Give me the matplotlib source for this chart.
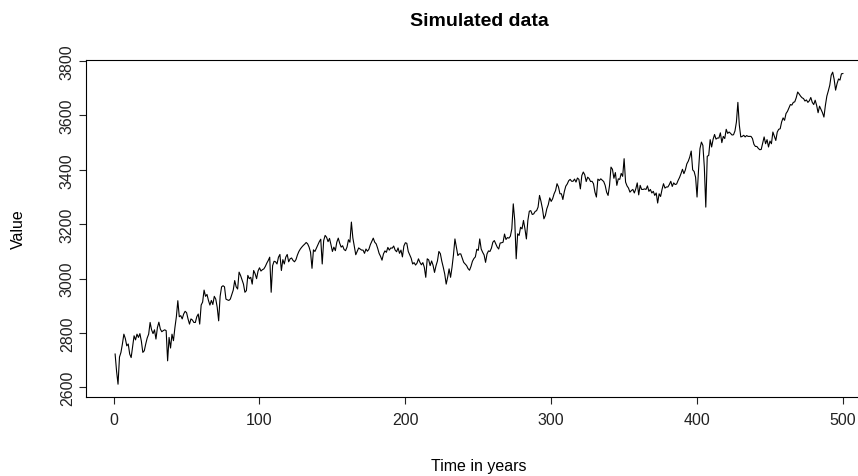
import numpy as np
import matplotlib
matplotlib.use("Agg")
import matplotlib.pyplot as plt

# values, one per year (t = 1..500)
values = [
    2723, 2660, 2612, 2712, 2729, 2760, 2796, 2780, 2753, 2760,
    2723, 2710, 2750, 2790, 2775, 2796, 2784, 2798, 2770, 2729,
    2735, 2760, 2782, 2796, 2839, 2812, 2798, 2812, 2778, 2820,
    2840, 2815, 2805, 2809, 2812, 2809, 2698, 2784, 2745, 2796,
    2772, 2820, 2860, 2919, 2860, 2864, 2852, 2870, 2880, 2875,
    2852, 2833, 2852, 2848, 2839, 2839, 2860, 2870, 2833, 2903,
    2914, 2958, 2935, 2942, 2920, 2903, 2920, 2905, 2935, 2925,
    2895, 2845, 2935, 2970, 2974, 2970, 2925, 2922, 2920, 2925,
    2942, 2958, 2993, 2970, 2962, 3024, 3012, 2996, 2980, 2950,
    2956, 3012, 3000, 3005, 2980, 3030, 3018, 3000, 3028, 3040,
    3028, 3033, 3036, 3045, 3057, 3067, 3079, 2950, 3048, 3064,
    3062, 3054, 3079, 3089, 3030, 3070, 3054, 3079, 3089, 3062,
    3073, 3076, 3067, 3062, 3070, 3087, 3100, 3109, 3116, 3122,
    3127, 3133, 3128, 3116, 3097, 3038, 3106, 3100, 3112, 3125,
    3136, 3145, 3054, 3140, 3159, 3152, 3136, 3148, 3125, 3100,
    3116, 3103, 3134, 3149, 3130, 3116, 3121, 3107, 3103, 3116,
    3143, 3134, 3208, 3150, 3119, 3088, 3101, 3113, 3109, 3105,
    3105, 3093, 3109, 3101, 3108, 3125, 3137, 3149, 3134, 3128,
    3112, 3093, 3082, 3068, 3091, 3102, 3097, 3115, 3105, 3113,
    3112, 3120, 3105, 3099, 3113, 3093, 3105, 3080, 3120, 3132,
    3130, 3100, 3088, 3075, 3054, 3059, 3050, 3057, 3073, 3060,
    3051, 3059, 3042, 3005, 3073, 3069, 3048, 3065, 3049, 3023,
    3047, 3065, 3100, 3092, 3064, 3042, 3017, 2980, 3005, 3036,
    3005, 3042, 3088, 3146, 3116, 3085, 3091, 3091, 3075, 3060,
    3054, 3048, 3037, 3031, 3045, 3064, 3074, 3080, 3108, 3104,
    3146, 3109, 3097, 3087, 3060, 3091, 3102, 3100, 3112, 3134,
    3140, 3128, 3116, 3109, 3131, 3132, 3134, 3164, 3144, 3151,
    3149, 3156, 3183, 3275, 3214, 3073, 3165, 3159, 3189, 3183,
    3214, 3183, 3146, 3214, 3248, 3250, 3236, 3238, 3247, 3250,
    3263, 3306, 3284, 3257, 3220, 3232, 3257, 3272, 3297, 3284,
    3294, 3312, 3324, 3349, 3337, 3312, 3312, 3291, 3320, 3340,
    3348, 3360, 3365, 3358, 3358, 3366, 3355, 3370, 3365, 3330,
    3379, 3392, 3382, 3357, 3373, 3368, 3357, 3358, 3349, 3318,
    3300, 3366, 3361, 3367, 3362, 3357, 3343, 3318, 3306, 3343,
    3410, 3402, 3369, 3390, 3343, 3367, 3365, 3387, 3376, 3441,
    3355, 3341, 3333, 3318, 3324, 3328, 3315, 3330, 3352, 3308,
    3343, 3328, 3328, 3330, 3328, 3341, 3321, 3328, 3315, 3321,
    3306, 3315, 3278, 3312, 3302, 3328, 3349, 3333, 3337, 3337,
    3346, 3358, 3339, 3352, 3346, 3348, 3361, 3372, 3386, 3402,
    3386, 3400, 3422, 3432, 3447, 3469, 3400, 3394, 3373, 3300,
    3398, 3478, 3502, 3490, 3410, 3263, 3450, 3453, 3511, 3484,
    3512, 3530, 3513, 3517, 3517, 3536, 3500, 3523, 3515, 3549,
    3534, 3539, 3534, 3528, 3529, 3543, 3576, 3648, 3564, 3521,
    3523, 3527, 3521, 3526, 3523, 3523, 3523, 3515, 3494, 3486,
    3486, 3479, 3474, 3475, 3498, 3521, 3496, 3511, 3484, 3506,
    3496, 3539, 3524, 3508, 3539, 3549, 3551, 3576, 3591, 3582,
    3607, 3615, 3628, 3640, 3638, 3648, 3650, 3665, 3686, 3679,
    3671, 3665, 3662, 3653, 3657, 3648, 3654, 3666, 3648, 3640,
    3656, 3637, 3610, 3634, 3622, 3610, 3594, 3637, 3671, 3690,
    3711, 3748, 3759, 3733, 3693, 3717, 3734, 3730, 3753, 3754,
]
years = np.arange(1, len(values) + 1)

x_ticks = [0, 100, 200, 300, 400, 500]
y_ticks = [2600, 2800, 3000, 3200, 3400, 3600, 3800]

plt.rcParams['font.family'] = ['Liberation Sans', 'DejaVu Sans']

W, H = 858, 477
fig = plt.figure(figsize=(W / 100, H / 100), dpi=100)
# plot box as in the R device (right edge falls outside the cropped picture)
ax = fig.add_axes([86 / W, 79.3 / H, 786 / W, 337 / H])

ax.plot(years, values, color='black', linewidth=0.8)
ax.margins(x=0.04, y=0.04)

ax.set_xticks(x_ticks)
ax.set_yticks(y_ticks)
ax.tick_params(direction='out', length=5, width=0.8, labelsize=11.5, colors='#222222')
ax.tick_params(axis='x', pad=6)
ax.tick_params(axis='y', pad=3)
for lab in ax.get_yticklabels():
    lab.set_rotation(90)
    lab.set_va('center')

for sp in ax.spines.values():
    sp.set_linewidth(0.8)
    sp.set_color('black')

fig.text(479 / W, 1 - 22 / H, "Simulated data", ha='center', va='center',
         fontsize=14, fontweight='bold')
fig.text(479 / W, 1 - 467 / H, "Time in years", ha='center', va='center', fontsize=11.5)
fig.text(18 / W, 1 - 229 / H, "Value", ha='center', va='center', rotation=90, fontsize=11.5)

fig.savefig("out.png", dpi=100)
